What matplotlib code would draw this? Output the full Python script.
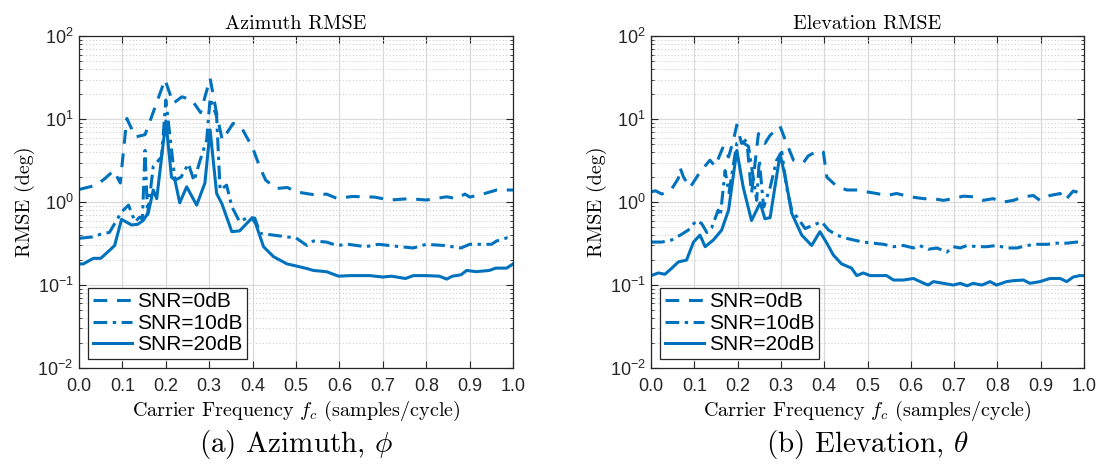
import matplotlib.pyplot as plt
from matplotlib.ticker import FixedLocator, FixedFormatter, LogLocator, NullFormatter

plt.rcParams['mathtext.fontset'] = 'cm'
plt.rcParams['font.family'] = 'Liberation Sans'

# Azimuth RMSE (deg)
az_f0 = [0.0, 0.04, 0.06, 0.08, 0.095, 0.11, 0.13, 0.152, 0.163, 0.198, 0.217, 0.237,
         0.26, 0.28, 0.302, 0.317, 0.33, 0.355, 0.375, 0.40, 0.417, 0.43, 0.455, 0.48,
         0.50, 0.548, 0.57, 0.594, 0.63, 0.68, 0.717, 0.76, 0.80, 0.847, 0.87, 0.889,
         0.90, 0.93, 0.962, 1.0]
az_v0 = [1.42, 1.6, 1.93, 2.4, 1.7, 10.2, 6.1, 6.5, 9.3, 30.0, 15.5, 18.6,
         17.0, 12.0, 31.0, 11.7, 5.6, 8.9, 7.8, 4.5, 2.6, 1.84, 1.46, 1.5,
         1.33, 1.21, 1.25, 1.11, 1.17, 1.15, 1.06, 1.1, 1.06, 1.16, 1.1, 1.25,
         1.15, 1.25, 1.4, 1.4]

az_f10 = [0.0, 0.03, 0.056, 0.07, 0.098, 0.114, 0.129, 0.14, 0.146, 0.152, 0.158, 0.171,
          0.19, 0.2, 0.221, 0.235, 0.252, 0.265, 0.279, 0.294, 0.302, 0.317, 0.325,
          0.34, 0.352, 0.37, 0.39, 0.405, 0.417, 0.448, 0.48, 0.50, 0.525, 0.54, 0.57,
          0.594, 0.62, 0.66, 0.69, 0.74, 0.77, 0.80, 0.84, 0.88, 0.90, 0.95, 0.962,
          0.985, 1.0]
az_v10 = [0.366, 0.38, 0.42, 0.43, 0.76, 0.92, 0.58, 0.66, 0.62, 4.2, 0.7, 2.7,
          3.5, 17.0, 1.84, 2.0, 2.9, 1.8, 3.2, 5.6, 17.8, 10.8, 1.4,
          1.6, 0.88, 0.58, 0.66, 0.64, 0.42, 0.40, 0.38, 0.37, 0.30, 0.34, 0.33,
          0.30, 0.31, 0.29, 0.31, 0.29, 0.28, 0.31, 0.30, 0.28, 0.31, 0.31, 0.34,
          0.37, 0.36]

az_f20 = [0.0, 0.01, 0.033, 0.05, 0.071, 0.082, 0.098, 0.121, 0.135, 0.148, 0.16,
          0.171, 0.179, 0.2, 0.213, 0.221, 0.232, 0.248, 0.271, 0.29, 0.302, 0.317,
          0.329, 0.352, 0.37, 0.398, 0.407, 0.425, 0.448, 0.479, 0.50, 0.525, 0.54,
          0.57, 0.598, 0.625, 0.67, 0.70, 0.72, 0.752, 0.77, 0.80, 0.83, 0.847, 0.86,
          0.88, 0.893, 0.915, 0.945, 0.96, 0.985, 1.0]
az_v20 = [0.18, 0.18, 0.21, 0.21, 0.264, 0.3, 0.62, 0.53, 0.54, 0.60, 0.76,
          1.4, 1.1, 9.5, 2.0, 1.84, 0.98, 1.53, 0.92, 1.7, 7.4, 1.27,
          0.96, 0.44, 0.45, 0.64, 0.55, 0.29, 0.22, 0.18, 0.17, 0.158, 0.15,
          0.145, 0.128, 0.13, 0.13, 0.125, 0.128, 0.12, 0.13, 0.13, 0.128, 0.118, 0.128,
          0.133, 0.15, 0.145, 0.15, 0.16, 0.16, 0.18]

# Elevation RMSE (deg)
el_f0 = [0.0, 0.01, 0.025, 0.048, 0.063, 0.067, 0.075, 0.09, 0.113, 0.136, 0.148,
         0.167, 0.179, 0.19, 0.198, 0.209, 0.221, 0.232, 0.248, 0.263, 0.275, 0.298,
         0.31, 0.329, 0.352, 0.363, 0.386, 0.398, 0.406, 0.429, 0.452, 0.475, 0.498,
         0.521, 0.544, 0.567, 0.598, 0.63, 0.652, 0.675, 0.698, 0.721, 0.744, 0.767,
         0.79, 0.813, 0.837, 0.86, 0.883, 0.898, 0.921, 0.945, 0.956, 0.975, 0.99, 1.0]
el_v0 = [1.33, 1.37, 1.25, 1.45, 1.93, 2.6, 2.0, 1.5, 2.3, 3.2, 2.7,
         4.7, 3.5, 5.5, 8.5, 5.1, 5.7, 1.25, 6.7, 5.1, 6.4, 8.2,
         5.6, 3.2, 3.0, 3.6, 4.2, 4.0, 2.0, 1.55, 1.4, 1.4, 1.33,
         1.27, 1.2, 1.27, 1.16, 1.1, 1.1, 1.05, 1.1, 1.18, 1.16, 1.05,
         1.1, 1.0, 1.05, 1.16, 1.2, 1.05, 1.2, 1.27, 1.05, 1.36, 1.3, 1.2]

el_f10 = [0.0, 0.025, 0.048, 0.071, 0.086, 0.105, 0.117, 0.129, 0.14, 0.155, 0.16,
          0.171, 0.18, 0.198, 0.21, 0.225, 0.244, 0.25, 0.26, 0.275, 0.29, 0.302,
          0.313, 0.325, 0.336, 0.356, 0.375, 0.394, 0.41, 0.429, 0.448, 0.467, 0.49,
          0.513, 0.537, 0.56, 0.583, 0.606, 0.62, 0.64, 0.66, 0.683, 0.698, 0.714,
          0.73, 0.752, 0.775, 0.798, 0.821, 0.845, 0.868, 0.89, 0.914, 0.937, 0.96,
          0.983, 1.0]
el_v10 = [0.33, 0.33, 0.35, 0.41, 0.46, 0.6, 0.55, 0.43, 0.49, 0.8, 0.68,
          2.4, 1.3, 5.1, 5.3, 4.7, 1.05, 3.2, 0.87, 1.5, 3.2, 4.0,
          1.5, 0.8, 0.67, 0.48, 0.53, 0.58, 0.46, 0.4, 0.37, 0.35, 0.33,
          0.32, 0.31, 0.29, 0.30, 0.28, 0.30, 0.27, 0.28, 0.25, 0.29, 0.28,
          0.30, 0.29, 0.29, 0.30, 0.28, 0.28, 0.30, 0.31, 0.31, 0.32, 0.32,
          0.33, 0.32]

el_f20 = [0.0, 0.017, 0.032, 0.048, 0.063, 0.082, 0.098, 0.113, 0.125, 0.144, 0.163,
          0.179, 0.198, 0.213, 0.232, 0.252, 0.263, 0.275, 0.298, 0.31, 0.325, 0.348,
          0.371, 0.39, 0.406, 0.421, 0.44, 0.463, 0.475, 0.49, 0.506, 0.529, 0.544,
          0.56, 0.583, 0.606, 0.63, 0.64, 0.652, 0.675, 0.698, 0.714, 0.73, 0.744,
          0.764, 0.783, 0.798, 0.821, 0.837, 0.86, 0.875, 0.898, 0.921, 0.945, 0.96,
          0.975, 0.99, 1.0]
el_v20 = [0.13, 0.14, 0.135, 0.16, 0.19, 0.2, 0.33, 0.4, 0.29, 0.35, 0.46,
          0.8, 4.2, 1.5, 0.6, 0.98, 0.63, 0.65, 3.8, 2.0, 0.73, 0.4,
          0.3, 0.44, 0.32, 0.23, 0.18, 0.16, 0.13, 0.14, 0.13, 0.13, 0.13,
          0.115, 0.115, 0.12, 0.105, 0.1, 0.11, 0.105, 0.1, 0.105, 0.098, 0.105,
          0.1, 0.11, 0.1, 0.11, 0.113, 0.115, 0.105, 0.11, 0.12, 0.12, 0.11,
          0.125, 0.13, 0.13]

snr_labels = ['SNR=0dB', 'SNR=10dB', 'SNR=20dB']
titles = ['Azimuth RMSE', 'Elevation RMSE']
captions = [r'(a) Azimuth, $\phi$', r'(b) Elevation, $\theta$']
xticks = [0.0, 0.1, 0.2, 0.3, 0.4, 0.5, 0.6, 0.7, 0.8, 0.9, 1.0]
yticks = [1e-2, 1e-1, 1e0, 1e1, 1e2]
ytick_labels = [r'$\mathregular{10^{-2}}$', r'$\mathregular{10^{-1}}$', r'$\mathregular{10^{0}}$',
                r'$\mathregular{10^{1}}$', r'$\mathregular{10^{2}}$']

color = '#0072BD'
serif = 'cmr10'

fig = plt.figure(figsize=(10.99, 4.74), dpi=100)
ax1 = fig.add_axes([0.0719, 0.2236, 0.395, 0.700])
ax2 = fig.add_axes([0.5924, 0.2236, 0.394, 0.700])

data = [
    (ax1, [(az_f0, az_v0), (az_f10, az_v10), (az_f20, az_v20)]),
    (ax2, [(el_f0, el_v0), (el_f10, el_v10), (el_f20, el_v20)]),
]
styles = [(0, (4.5, 3.2)), (0, (4.5, 1.8, 1.1, 1.8)), '-']

for i, (ax, series) in enumerate(data):
    for (f, v), ls, lab in zip(series, styles, snr_labels):
        ax.plot(f, v, color=color, lw=2.2, linestyle=ls, label=lab)
    ax.set_yscale('log')
    ax.set_xlim(0, 1)
    ax.set_ylim(1e-2, 1e2)
    ax.xaxis.set_major_locator(FixedLocator(xticks))
    ax.set_xticklabels(['%.1f' % t for t in xticks])
    ax.yaxis.set_major_locator(FixedLocator(yticks))
    ax.yaxis.set_major_formatter(FixedFormatter(ytick_labels))
    ax.yaxis.set_minor_locator(LogLocator(base=10, subs=range(2, 10)))
    ax.yaxis.set_minor_formatter(NullFormatter())
    ax.tick_params(which='both', direction='in', top=True, right=True,
                   labelsize=13, colors='#262626')
    ax.tick_params(axis='x', which='major', pad=7)
    ax.tick_params(axis='y', which='major', pad=4)
    ax.tick_params(which='major', length=5)
    ax.tick_params(which='minor', length=2.5)
    ax.grid(True, which='major', color='#dadada', lw=0.9)
    ax.grid(True, which='minor', axis='y', color='#cfcfcf', lw=0.8, linestyle=(0, (1, 2)))
    ax.set_axisbelow(True)
    for s in ax.spines.values():
        s.set_color('#262626')
        s.set_linewidth(0.9)
    ax.set_title(titles[i], fontfamily=serif, fontsize=14.5, pad=5)
    ax.set_xlabel(r'Carrier Frequency $f_c$ (samples/cycle)', fontfamily=serif,
                  fontsize=14.5, labelpad=3)
    ax.set_ylabel('RMSE (deg)', fontfamily=serif, fontsize=14.5, labelpad=2)
    leg = ax.legend(loc='lower left', fontsize=15, handlelength=1.9, fancybox=False,
                    framealpha=1, edgecolor='#262626', borderaxespad=0.45,
                    labelspacing=0.12, handletextpad=0.25, borderpad=0.2)
    leg.get_frame().set_linewidth(0.9)
    pos = ax.get_position()
    fig.text(pos.x0 + pos.width / 2, 0.063, captions[i], ha='center', va='center',
             fontfamily=serif, fontsize=21)

fig.savefig('out.png', dpi=100)
